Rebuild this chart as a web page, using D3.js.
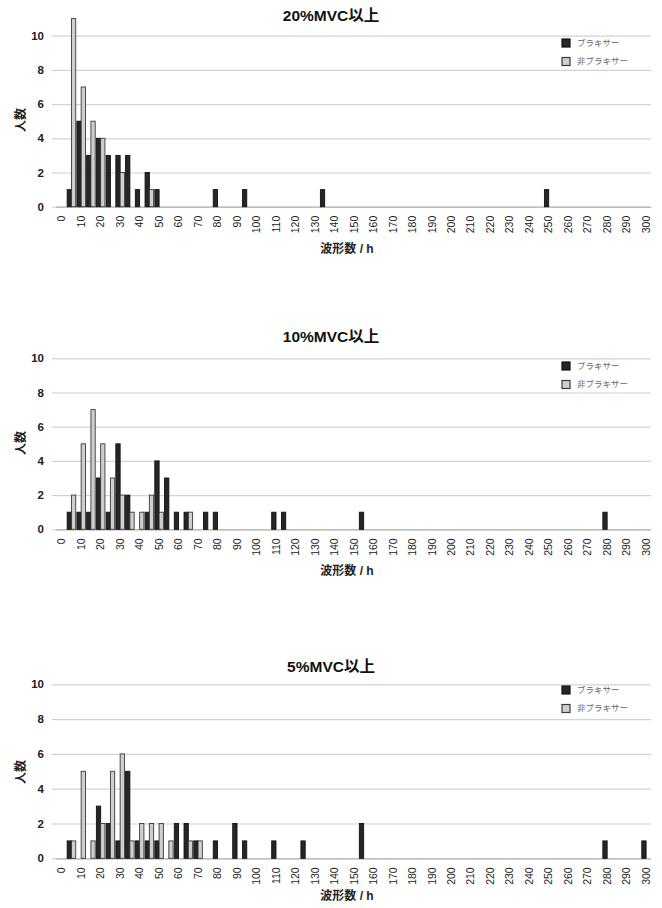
<!DOCTYPE html>
<html>
<head>
<meta charset="utf-8">
<script src="https://cdn.jsdelivr.net/npm/d3@7/dist/d3.min.js"></script>
<style>
  html, body { margin: 0; padding: 0; background: #fff; }
  svg { display: block; }
  text { font-family: "Liberation Sans", Arial, "Noto Sans CJK JP", sans-serif; }
</style>
</head>
<body>
<svg id="chart" width="662" height="908"></svg>
<script>
// Waveform-count bins (per hour), 5 wide
const categories = [0,5,10,15,20,25,30,35,40,45,50,55,60,65,70,75,80,85,90,95,100,
  105,110,115,120,125,130,135,140,145,150,155,160,165,170,175,180,185,190,195,200,
  205,210,215,220,225,230,235,240,245,250,255,260,265,270,275,280,285,290,295,300];
const tickLabels = [0,10,20,30,40,50,60,70,80,90,100,110,120,130,140,150,160,170,180,
  190,200,210,220,230,240,250,260,270,280,290,300];
const yTicks = [0, 2, 4, 6, 8, 10];
const seriesNames = ["ブラキサー", "非ブラキサー"];
const panelTitles = ["20%MVC以上", "10%MVC以上", "5%MVC以上"];

// [bin, number of subjects]
const bruxer20 = [[5,1],[10,5],[15,3],[20,4],[25,3],[30,3],[35,3],[40,1],[45,2],[50,1],
  [80,1],[95,1],[135,1],[250,1]];
const nonBruxer20 = [[5,11],[10,7],[15,5],[20,4],[30,2],[45,1]];

const bruxer10 = [[5,1],[10,1],[15,1],[20,3],[25,1],[30,5],[35,2],[45,1],[50,4],[55,3],
  [60,1],[65,1],[75,1],[80,1],[110,1],[115,1],[155,1],[280,1]];
const nonBruxer10 = [[5,2],[10,5],[15,7],[20,5],[25,3],[30,2],[35,1],[40,1],[45,2],[50,1],[65,1]];

const bruxer5 = [[5,1],[20,3],[25,2],[30,1],[35,5],[40,1],[45,1],[50,1],[60,2],[65,2],
  [70,1],[80,1],[90,2],[95,1],[110,1],[125,1],[155,2],[280,1],[300,1]];
const nonBruxer5 = [[5,1],[10,5],[15,1],[20,2],[25,5],[30,6],[35,1],[40,2],[45,2],[50,2],
  [55,1],[65,1],[70,1]];

const panelData = [
  [bruxer20, nonBruxer20],
  [bruxer10, nonBruxer10],
  [bruxer5, nonBruxer5]
];

// Layout of each panel (plot baseline, top gridline, text rows)
const layout = [
  { y0: 206.7, y10: 35.7, title: 16, legend: 43, xTitle: 249, yTitle: 120 },
  { y0: 529.3, y10: 358.3, title: 337, legend: 366, xTitle: 571, yTitle: 443 },
  { y0: 858.3, y10: 684.3, title: 667, legend: 690, xTitle: 896, yTitle: 772 }
];

const fills = ["#262626", "#cfcfcf"];
const strokes = ["#111", "#3a3a3a"];

const svg = d3.select("#chart");
const step = 9.74;
const x = d3.scaleBand()
  .domain(categories)
  .range([61.7 - step / 2, 61.7 - step / 2 + step * categories.length])
  .padding(0);
const xSub = d3.scaleBand()
  .domain([0, 1])
  .range([x.bandwidth() * 0.06, x.bandwidth() * 0.94])
  .padding(0);

const gridLeft = 56, gridRight = 651;

layout.forEach((L, pi) => {
  const g = svg.append("g");
  const y = d3.scaleLinear().domain([0, 10]).range([L.y0, L.y10]);

  // gridlines + y labels
  const yAxis = d3.axisLeft(y).tickValues(yTicks).tickSize(gridRight - gridLeft).tickPadding(12);
  const ya = g.append("g")
    .attr("transform", `translate(${gridRight},0)`)
    .call(yAxis);
  ya.select(".domain").remove();
  ya.selectAll(".tick line")
    .attr("stroke", d => d === 0 ? "#a8a8a8" : "#d2d2d2")
    .attr("stroke-width", 1.2);
  ya.selectAll(".tick")
    .append("line")
    .attr("x1", -(gridRight - gridLeft) - 4).attr("x2", -(gridRight - gridLeft))
    .attr("stroke", "#c8c8c8");
  ya.selectAll(".tick text")
    .attr("x", -(gridRight - 44))
    .attr("fill", "#222")
    .style("font-size", "11.5px")
    .style("font-weight", "bold");

  // bars
  panelData[pi].forEach((series, si) => {
    g.append("g").selectAll("rect")
      .data(series)
      .join("rect")
      .attr("x", d => x(d[0]) + xSub(si))
      .attr("width", xSub.bandwidth())
      .attr("y", d => y(d[1]))
      .attr("height", d => y(0) - y(d[1]))
      .attr("fill", fills[si])
      .attr("stroke", strokes[si])
      .attr("stroke-width", 0.9);
  });

  // x axis labels (every other bin)
  const xAxis = d3.axisBottom(x).tickValues(tickLabels).tickSize(0).tickPadding(0);
  const xa = g.append("g")
    .attr("transform", `translate(0,${L.y0})`)
    .call(xAxis);
  xa.select(".domain").remove();
  xa.selectAll(".tick text")
    .attr("transform", "rotate(-90)")
    .attr("x", -9)
    .attr("y", 0)
    .attr("dy", "0.35em")
    .attr("text-anchor", "end")
    .attr("fill", "#222")
    .style("font-size", "10.5px");

  // titles
  g.append("text")
    .attr("x", 331).attr("y", L.title)
    .attr("dy", "0.35em")
    .attr("text-anchor", "middle")
    .style("font-size", "15.5px")
    .style("font-weight", "bold")
    .attr("fill", "#111")
    .text(panelTitles[pi]);

  g.append("text")
    .attr("x", 347).attr("y", L.xTitle)
    .attr("dy", "0.35em")
    .attr("text-anchor", "middle")
    .style("font-size", "12px")
    .style("font-weight", "bold")
    .attr("fill", "#222")
    .text("波形数 / h");

  g.append("text")
    .attr("transform", `translate(21,${L.yTitle}) rotate(-90)`)
    .attr("dy", "0.35em")
    .attr("text-anchor", "middle")
    .style("font-size", "12px")
    .style("font-weight", "bold")
    .attr("fill", "#222")
    .text("人数");

  // legend
  const lg = g.append("g").attr("transform", `translate(562,${L.legend})`);
  seriesNames.forEach((name, si) => {
    const row = lg.append("g").attr("transform", `translate(0,${si * 18.5})`);
    row.append("rect")
      .attr("x", 0).attr("y", -4).attr("width", 8).attr("height", 8)
      .attr("fill", fills[si]).attr("stroke", strokes[si]).attr("stroke-width", 1.2);
    row.append("text")
      .attr("x", 15).attr("y", 0).attr("dy", "0.35em")
      .style("font-size", "8.5px")
      .attr("fill", "#666")
      .text(name);
  });
});
</script>
</body>
</html>
